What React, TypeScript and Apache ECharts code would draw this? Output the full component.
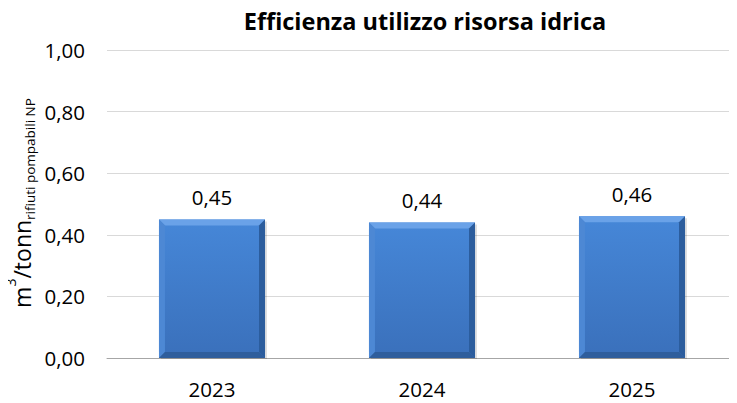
import React, { useEffect, useRef } from "react";
import * as echarts from "echarts";

const title = "Efficienza utilizzo risorsa idrica";
const categories = ["2023", "2024", "2025"];
const values = [0.45, 0.44, 0.46];
const yTicks = { min: 0, max: 1, interval: 0.2 };

const FONT = "'Open Sans', 'DejaVu Sans', sans-serif";
const fmt = (v: number) => v.toFixed(2).replace(".", ",");

export default function App() {
  const ref = useRef<HTMLDivElement>(null);
  useEffect(() => {
    if (!ref.current) return;
    const chart = echarts.init(ref.current, null, { renderer: "svg" });
    const option: any = {
      animation: false,
      backgroundColor: "#ffffff",
      textStyle: { fontFamily: FONT },
      title: {
        text: title,
        left: 420,
        top: 4,
        textAlign: "center",
        textStyle: { fontFamily: FONT, fontSize: 23.5, fontWeight: "bold", color: "#000" },
      },
      grid: { left: 107, right: -5, top: 50, bottom: 45, containLabel: false },
      xAxis: {
        type: "category",
        data: categories,
        axisLine: { show: true, lineStyle: { color: "#a6a6a6", width: 1 } },
        axisTick: { show: false },
        axisLabel: { fontSize: 20.5, color: "#000", margin: 20, fontFamily: FONT },
      },
      yAxis: {
        type: "value",
        min: yTicks.min,
        max: yTicks.max,
        interval: yTicks.interval,
        axisLine: { show: false },
        axisTick: { show: false },
        splitLine: { lineStyle: { color: "#d9d9d9", width: 1 } },
        axisLabel: {
          fontSize: 20.5,
          color: "#000",
          margin: 22,
          fontFamily: FONT,
          formatter: (v: number) => fmt(v),
        },
      },
      graphic: [
        {
          type: "text",
          x: 33,
          y: 203,
          rotation: Math.PI / 2,
          style: {
            text: "{m|m}{sup|3}{m|/tonn}{sub|rifiuti pompabili NP}",
            align: "center",
            verticalAlign: "bottom",
            rich: {
              m: { fontSize: 23, fontFamily: FONT, fill: "#000", verticalAlign: "bottom", lineHeight: 30 },
              sup: { fontSize: 14, fontFamily: FONT, fill: "#000", verticalAlign: "top", lineHeight: 30 },
              sub: { fontSize: 13.5, fontFamily: FONT, fill: "#000", verticalAlign: "bottom", lineHeight: 20, padding: [0, 0, -4, 0] },
            },
          },
        },
      ],
      series: [
        {
          type: "custom",
          data: categories.map((c, i) => [i, values[i]]),
          encode: { x: 0, y: 1 },
          renderItem: (params: any, api: any) => {
            const idx = api.value(0);
            const val = api.value(1);
            const top = api.coord([idx, val]);
            const base = api.coord([idx, 0]);
            const bw = api.size([1, 0])[0] * 0.505;
            const x0 = top[0] - bw / 2;
            const x1 = top[0] + bw / 2;
            const y0 = top[1];
            const y1 = base[1];
            const b = 6;
            return {
              type: "group",
              children: [
                {
                  type: "rect",
                  shape: { x: x0 + 2, y: y0 + 2, width: bw, height: y1 - y0 - 1 },
                  style: { fill: "rgba(0,0,0,0.12)" },
                },
                {
                  type: "rect",
                  shape: { x: x0, y: y0, width: bw, height: y1 - y0 },
                  style: {
                    fill: new echarts.graphic.LinearGradient(0, 0, 0, 1, [
                      { offset: 0, color: "#4687d8" },
                      { offset: 1, color: "#3a70bb" },
                    ]),
                  },
                },
                {
                  type: "polygon",
                  shape: { points: [[x0, y0], [x1, y0], [x1 - b, y0 + b], [x0 + b, y0 + b]] },
                  style: { fill: "#6aa2e8" },
                },
                {
                  type: "polygon",
                  shape: { points: [[x0, y0], [x0 + b, y0 + b], [x0 + b, y1 - b], [x0, y1]] },
                  style: { fill: "#4d88d4" },
                },
                {
                  type: "polygon",
                  shape: { points: [[x1, y0], [x1, y1], [x1 - b, y1 - b], [x1 - b, y0 + b]] },
                  style: { fill: "#2c5d9d" },
                },
                {
                  type: "polygon",
                  shape: { points: [[x0, y1], [x0 + b, y1 - b], [x1 - b, y1 - b], [x1, y1]] },
                  style: { fill: "#2f5e9c" },
                },
                {
                  type: "text",
                  style: {
                    text: fmt(val),
                    x: top[0],
                    y: y0 - 12,
                    align: "center",
                    verticalAlign: "bottom",
                    fontSize: 20.5,
                    fontFamily: FONT,
                    fill: "#000",
                  },
                },
              ],
            };
          },
        },
      ],
    };
    chart.setOption(option);
    return () => chart.dispose();
  }, []);
  return <div ref={ref} style={{ width: 737, height: 403, marginLeft: -8, marginTop: -8 }} />;
}
